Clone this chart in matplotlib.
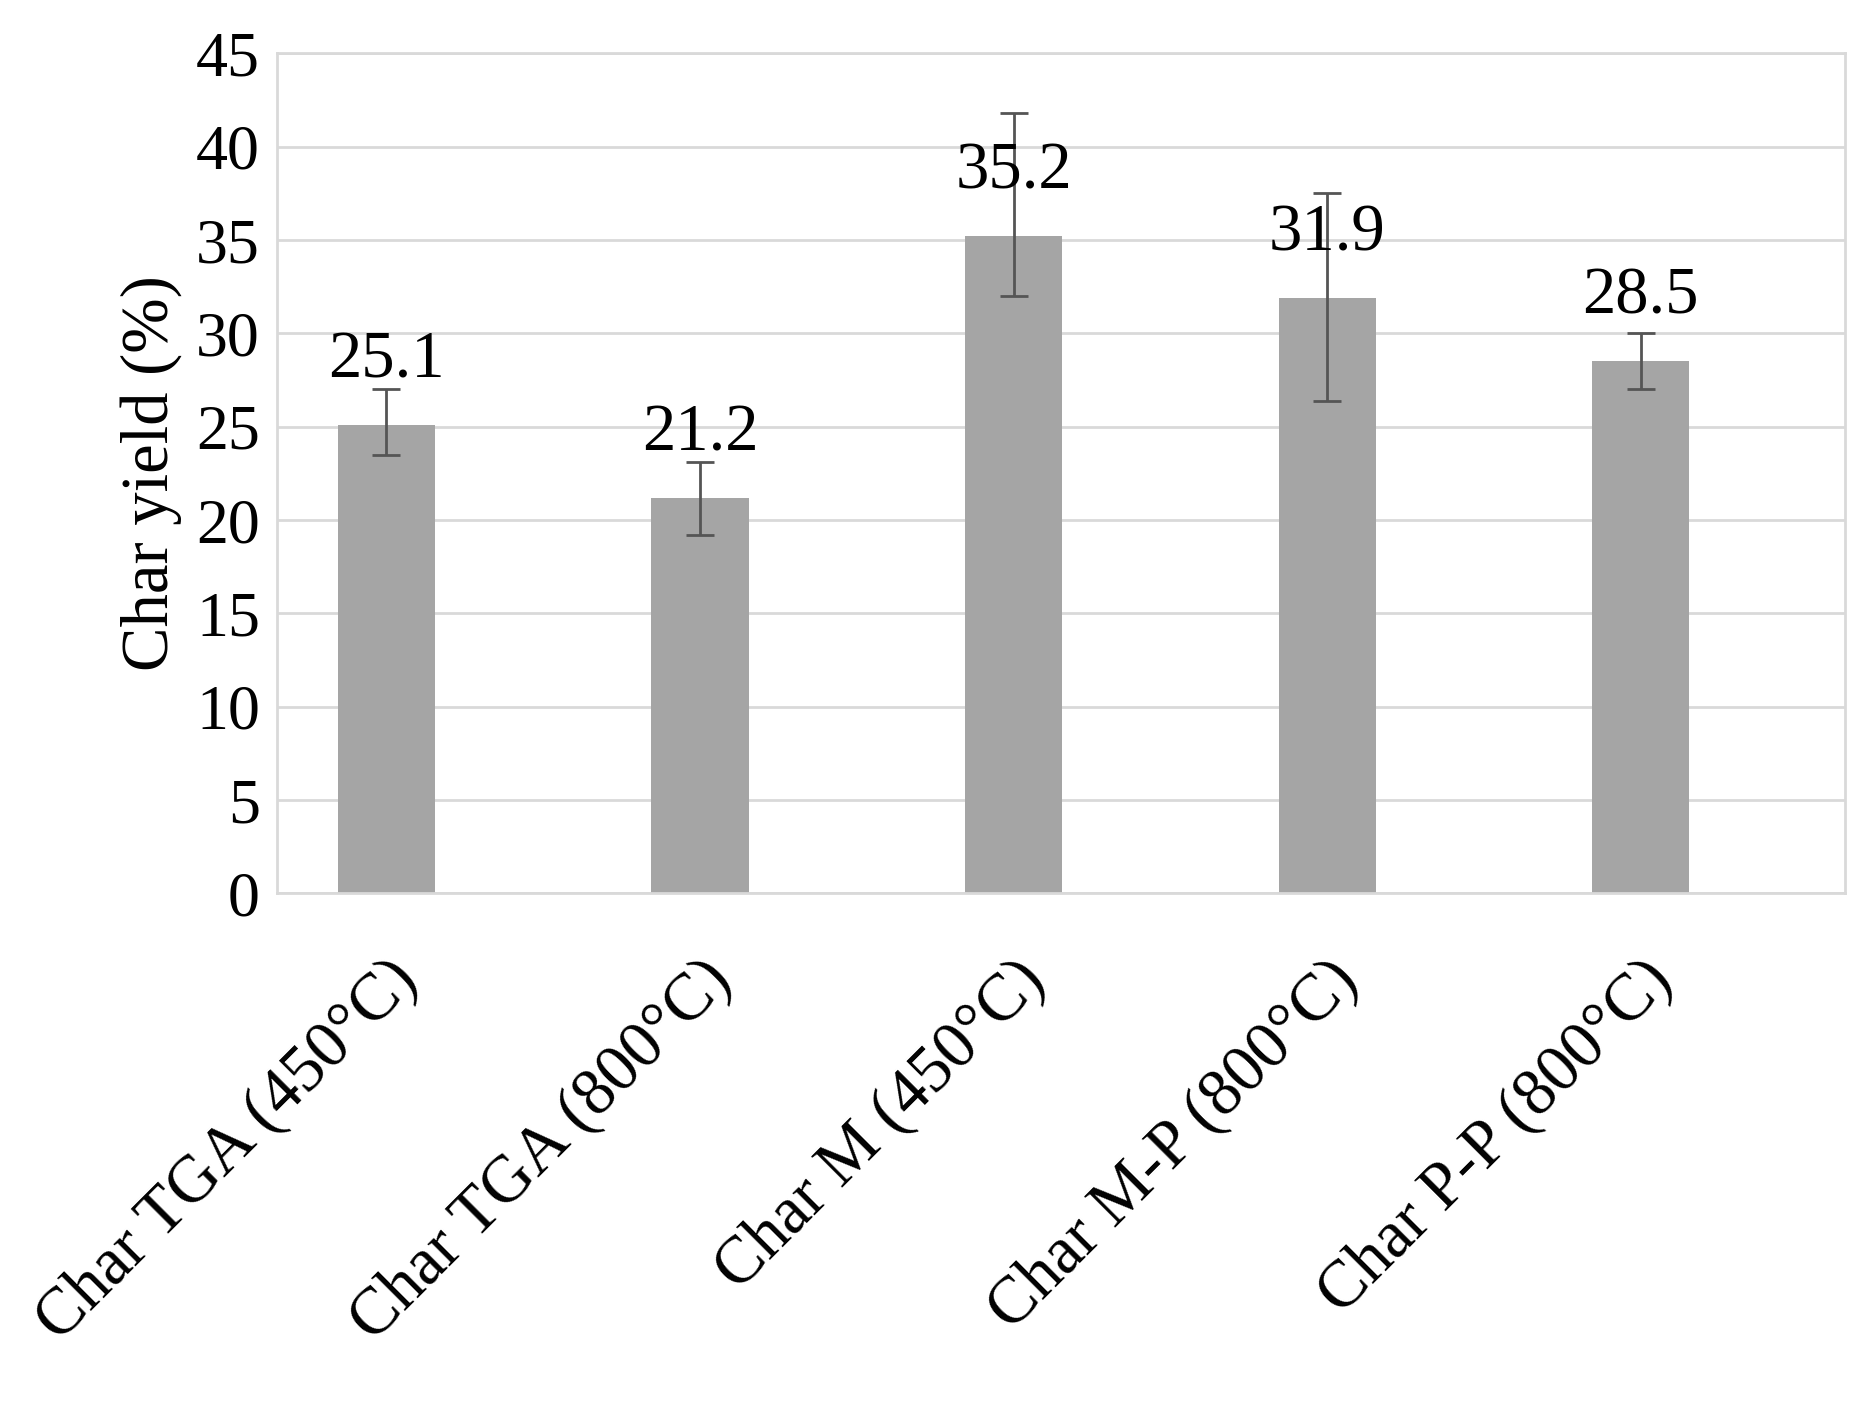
import matplotlib
matplotlib.use("Agg")
import matplotlib.pyplot as plt
import numpy as np

plt.rcParams.update({
    "font.family": ["Liberation Serif", "DejaVu Serif"],
    "font.size": 46,
})

categories = ["Char TGA (450°C)", "Char TGA (800°C)", "Char M (450°C)",
              "Char M-P (800°C)", "Char P-P (800°C)"]
values = [25.1, 21.2, 35.2, 31.9, 28.5]
err_low = [23.5, 19.2, 32.0, 26.4, 27.0]
err_high = [27.0, 23.1, 41.8, 37.5, 30.0]

fig = plt.figure(figsize=(18.69, 14.07), dpi=100)
ax = fig.add_axes([0.148, 0.365, 0.839, 0.597])

x = np.arange(len(categories))
yerr = [np.array(values) - np.array(err_low), np.array(err_high) - np.array(values)]
ax.bar(x, values, width=0.31, color="#a5a5a5", zorder=2)
ax.errorbar(x, values, yerr=yerr, fmt="none", ecolor="#555555", elinewidth=2,
            capsize=10, capthick=2, zorder=3)
for xi, v in zip(x, values):
    ax.text(xi, v + 1.8, f"{v}", ha="center", va="bottom", fontsize=48, zorder=4)

ax.set_xlim(-0.35, 4.65)
ax.set_ylim(0, 45)
ax.set_yticks(range(0, 46, 5))
ax.yaxis.grid(True, color="#d9d9d9", linewidth=2, zorder=0)
ax.set_axisbelow(True)
for s in ax.spines.values():
    s.set_color("#d9d9d9")
    s.set_linewidth(2)
ax.tick_params(length=0, labelsize=46, pad=12)
ax.tick_params(axis="x", pad=40)
ax.set_xticks(x)
ax.set_xticklabels(categories, rotation=45, ha="right", rotation_mode="anchor",
                   fontsize=48)
ax.set_ylabel("Char yield (%)", fontsize=48, labelpad=10)

fig.savefig("out.png", dpi=100)
